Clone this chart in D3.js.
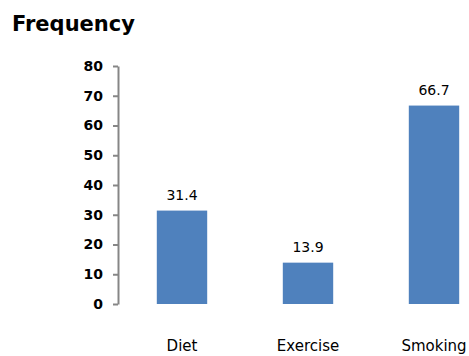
<!DOCTYPE html>
<html>
<head>
<meta charset="utf-8">
<script src="https://cdn.jsdelivr.net/npm/d3@7"></script>
<style>
  html, body { margin: 0; padding: 0; background: #fff; }
  svg { display: block; }
</style>
</head>
<body>
<svg id="chart" width="469" height="356"></svg>
<script>
// Frequency of each lifestyle factor
const categories = ["Diet", "Exercise", "Smoking"];
const values = [31.4, 13.9, 66.7];
const valueLabels = ["31.4", "13.9", "66.7"];
const yTicks = [0, 10, 20, 30, 40, 50, 60, 70, 80];

const svg = d3.select("#chart");
const font = "'DejaVu Sans', Verdana, sans-serif";

const x = d3.scaleBand()
  .domain(categories)
  .range([119, 497])
  .paddingInner(0.6)
  .paddingOuter(0.3);

const y = d3.scaleLinear().domain([0, 80]).range([304, 66]);

// title
svg.append("text")
  .attr("x", 12)
  .attr("y", 31)
  .attr("font-family", font)
  .attr("font-weight", "bold")
  .attr("font-size", 21)
  .attr("fill", "#000")
  .text("Frequency");

// y axis
const yAxis = svg.append("g")
  .attr("transform", "translate(118,0)")
  .call(d3.axisLeft(y).tickValues(yTicks).tickSize(5).tickSizeOuter(0).tickPadding(10));
yAxis.select(".domain").attr("stroke", "#868686").attr("stroke-width", 2);
yAxis.selectAll(".tick line").attr("stroke", "#868686").attr("stroke-width", 2);
yAxis.selectAll(".tick text")
  .attr("font-family", font)
  .attr("font-weight", "bold")
  .attr("font-size", 14)
  .attr("fill", "#000");

// bars
svg.selectAll("rect.bar")
  .data(categories)
  .join("rect")
  .attr("class", "bar")
  .attr("x", d => x(d))
  .attr("width", x.bandwidth())
  .attr("y", (d, i) => y(values[i]))
  .attr("height", (d, i) => y(0) - y(values[i]))
  .attr("fill", "#4F81BD");

// value labels
svg.selectAll("text.val")
  .data(categories)
  .join("text")
  .attr("class", "val")
  .attr("x", d => x(d) + x.bandwidth() / 2)
  .attr("y", (d, i) => y(values[i]) - 11)
  .attr("text-anchor", "middle")
  .attr("font-family", font)
  .attr("font-size", 14)
  .attr("fill", "#000")
  .text((d, i) => valueLabels[i]);

// category labels
svg.selectAll("text.cat")
  .data(categories)
  .join("text")
  .attr("class", "cat")
  .attr("x", d => x(d) + x.bandwidth() / 2)
  .attr("y", 351)
  .attr("text-anchor", "middle")
  .attr("font-family", font)
  .attr("font-size", 15)
  .attr("fill", "#000")
  .text(d => d);
</script>
</body>
</html>
